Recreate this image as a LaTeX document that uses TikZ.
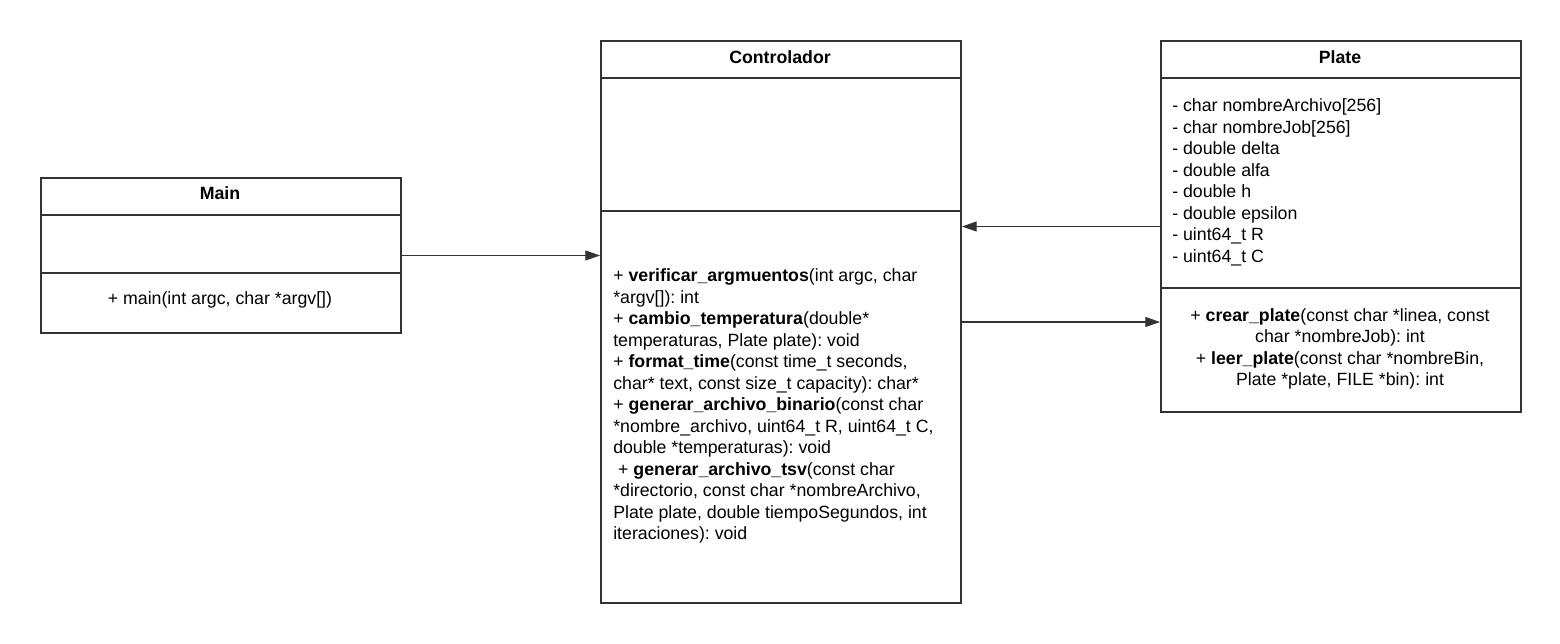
\documentclass[tikz,border=0pt]{standalone}
\usepackage{fontspec}
\setmainfont{Liberation Sans}
\usetikzlibrary{arrows.meta}
\definecolor{ln}{HTML}{333333}
\frenchspacing
\begin{document}
\begin{tikzpicture}[x=0.75pt,y=-0.75pt,
  classbox/.style={draw=ln, line width=1.5pt, rectangle, inner sep=0pt, minimum width=270pt, anchor=north west},
  divider/.style={draw=ln, line width=1.5pt},
  conn/.style={draw=ln, line width=0.8pt, -{Triangle[length=11pt,width=7.5pt]}},
  titletxt/.style={font=\fontsize{13.3}{16.1}\selectfont\frenchspacing\bfseries, inner sep=0pt, anchor=base},
  lefttxt/.style={font=\fontsize{13.3}{16.1}\selectfont\frenchspacing, inner sep=0pt, align=left, anchor=base west},
  centtxt/.style={font=\fontsize{13.3}{16.1}\selectfont\frenchspacing, inner sep=0pt, align=center, anchor=base}]
\useasboundingbox (0,0) rectangle (1560,643);

% Main
\node[classbox, minimum height=116.25pt] (main) at (40,177) {};
\draw[divider] (main.north west) ++(0,38) -- ++(360,0);
\draw[divider] (main.north west) ++(0,96) -- ++(360,0);
\node[titletxt] (mainTitle) at (220,199) {Main};
\node[centtxt] (mainOps) at (220,304) {+ main(int argc, char *argv[])};

% Controlador
\node[classbox, minimum height=421.5pt] (ctrl) at (600,40) {};
\draw[divider] (ctrl.north west) ++(0,38) -- ++(360,0);
\draw[divider] (ctrl.north west) ++(0,171) -- ++(360,0);
\node[titletxt] (ctrlTitle) at (780,63) {Controlador};
% anchor base = baseline of the last line
\node[lefttxt] (ctrlOps) at (613,539.5) {+ \textbf{verificar\_argmuentos}(int argc, char\\
{}*argv[]): int\\
+ \textbf{cambio\_temperatura}(double*\\
temperaturas, Plate plate): void\\
+ \textbf{format\_time}(const time\_t seconds,\\
char* text, const size\_t capacity): char*\\
+ \textbf{generar\_archivo\_binario}(const char\\
{}*nombre\_archivo, uint64\_t R, uint64\_t C,\\
double *temperaturas): void\\
\ + \textbf{generar\_archivo\_tsv}(const char\\
{}*directorio, const char *nombreArchivo,\\
Plate plate, double tiempoSegundos, int\\
iteraciones): void};

% Plate
\node[classbox, minimum height=278.25pt] (plate) at (1160,40) {};
\draw[divider] (plate.north west) ++(0,38) -- ++(360,0);
\draw[divider] (plate.north west) ++(0,248) -- ++(360,0);
\node[titletxt] (plateTitle) at (1340,63) {Plate};
\node[lefttxt] (plateAttrs) at (1172,262) {- char nombreArchivo[256]\\
- char nombreJob[256]\\
- double delta\\
- double alfa\\
- double h\\
- double epsilon\\
- uint64\_t R\\
- uint64\_t C};
\node[centtxt] (plateOps) at (1340,385.5) {+ \textbf{crear\_plate}(const char *linea, const\\
char *nombreJob): int\\
+ \textbf{leer\_plate}(const char *nombreBin,\\
Plate *plate, FILE *bin): int};

% connectors
\draw[conn] (main.east) -- (main.east -| ctrl.west);
\draw[conn] (plate.west) -- (plate.west -| ctrl.east);
\draw[conn] (ctrl.east) -- (ctrl.east -| plate.west);
\end{tikzpicture}
\end{document}
